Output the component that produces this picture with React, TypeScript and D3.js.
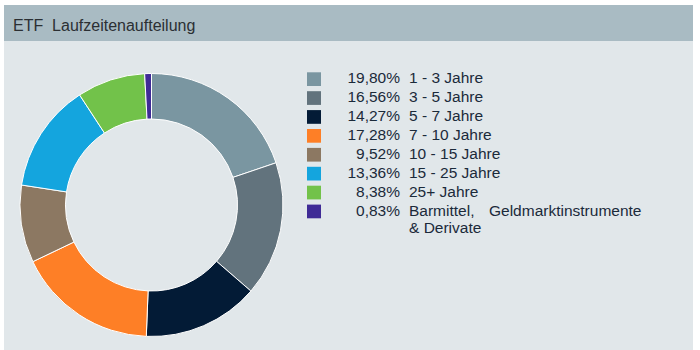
import React from "react";
import * as d3 from "d3";

const categories = ["1 - 3 Jahre", "3 - 5 Jahre", "5 - 7 Jahre", "7 - 10 Jahre", "10 - 15 Jahre", "15 - 25 Jahre", "25+ Jahre", "Barmittel, Geldmarktinstrumente & Derivate"];
const values = [19.80, 16.56, 14.27, 17.28, 9.52, 13.36, 8.38, 0.83];
const colors = ["#7a96a1", "#62737d", "#031b36", "#fe7f26", "#8c7862", "#14a5de", "#72c24a", "#3f2b96"];
const title = "ETF\u00a0 Laufzeitenaufteilung";

const fmt = (v: number) => v.toFixed(2).replace(".", ",") + "%";

export default function App() {
  const W = 700, H = 350;
  const cx = 151.5, cy = 205, rOuter = 131.5, rInner = 86;
  const pie = d3.pie<number>().sort(null).value((d) => d)(values);
  const arc = d3.arc<d3.PieArcDatum<number>>().innerRadius(rInner).outerRadius(rOuter);
  const rowY = d3.scaleLinear().domain([0, 1]).range([83.3, 102.2]);
  const font = "'Liberation Sans', Arial, sans-serif";
  const fs = 15.5;
  const tc = "#1b2a3a";
  return (
    <svg width={W} height={H} style={{ position: "absolute", left: 0, top: 0 }} fontFamily={font}>
      <rect x={4} y={5} width={689} height={345} fill="#e1e7ea" />
      <rect x={4} y={5} width={689} height={36} fill="#a9bbc3" />
      <text x={13} y={31} fontSize={16} fill="#2b2f33">{title}</text>
      <g transform={`translate(${cx},${cy})`}>
        {pie.map((p, i) => (
          <path key={i} d={arc(p) || ""} fill={colors[i]} stroke="#ffffff" strokeWidth={1} />
        ))}
      </g>
      {values.map((v, i) => {
        const y = rowY(i);
        const label = categories[i];
        const isLast = i === values.length - 1;
        const words = label.split(" ");
        return (
          <g key={i}>
            <rect x={307} y={y - 11} width={14} height={13.7} fill={colors[i]} />
            <text x={400} y={y} fontSize={fs} fill={tc} textAnchor="end">{fmt(v)}</text>
            {isLast ? (
              <>
                <text x={409} y={y} fontSize={fs} fill={tc}>
                  <tspan x={409}>{words[0]}</tspan>
                  <tspan x={489}>{words[1]}</tspan>
                </text>
                <text x={409} y={y + 17.5} fontSize={fs} fill={tc}>{words.slice(2).join(" ")}</text>
              </>
            ) : (
              <text x={409} y={y} fontSize={fs} fill={tc}>{label}</text>
            )}
          </g>
        );
      })}
    </svg>
  );
}
